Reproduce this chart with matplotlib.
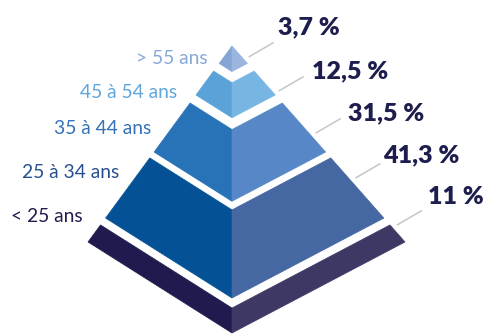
import numpy as np
import matplotlib
matplotlib.use("Agg")
from matplotlib import pyplot as plt
from matplotlib.patches import Polygon

# data
categories = ["> 55 ans", "45 à 54 ans", "35 à 44 ans", "25 à 34 ans", "< 25 ans"]
shares = [3.7, 12.5, 31.5, 41.3, 11]

# styles
left_colors = ["#85A5D4", "#5BA2D8", "#2872B7", "#045295", "#201B4E"]
right_colors = ["#9AB6DE", "#77B6E3", "#5787C6", "#4567A2", "#3E3964"]
label_colors = ["#86A8D8", "#5EA6DC", "#3471B8", "#26508F", "#201C4F"]
pct_color = "#1E1E4E"
line_color = "#C6C6C6"

# pyramid geometry (pixel space), layer cuts along apex->base
apex = np.array([232, 46])
base_left = np.array([88, 242])
base_front = np.array([232, 333])
base_right = np.array([405, 242])
cuts = [(0.0, 0.089), (0.128, 0.25), (0.291, 0.541), (0.571, 0.878), (0.913, 1.0)]

# label layout
label_x = [208, 177, 151, 119, 83]
label_y = [58, 93, 129, 173, 216]
lead_y = [57, 91, 133, 178, 225]
lead_dx, lead_dy = 25, -14.5
pct_x = [278, 312, 348, 383, 428]
pct_y = [27, 71, 113, 155, 197]


def pt(corner, t):
    return apex + t * (corner - apex)


def fmt(v):
    return "{:g}".format(v).replace(".", ",") + " %"


def main():
    fig = plt.figure(figsize=(4.86, 3.34), dpi=100)
    ax = fig.add_axes([0, 0, 1, 1])
    ax.set_xlim(0, 486)
    ax.set_ylim(334, 0)
    ax.axis("off")

    for i, (t0, t1) in enumerate(cuts):
        left_face = [pt(base_left, t0), pt(base_front, t0), pt(base_front, t1), pt(base_left, t1)]
        right_face = [pt(base_front, t0), pt(base_right, t0), pt(base_right, t1), pt(base_front, t1)]
        ax.add_patch(Polygon(left_face, closed=True, fc=left_colors[i], ec=left_colors[i], lw=0.5))
        ax.add_patch(Polygon(right_face, closed=True, fc=right_colors[i], ec=right_colors[i], lw=0.5))

        ax.text(label_x[i], label_y[i], categories[i], ha="right", va="center",
                fontsize=13.9, family="Lato", color=label_colors[i])

        # leader line from right edge of the pyramid
        frac = (lead_y[i] - apex[1]) / (base_right[1] - apex[1])
        x0 = pt(base_right, frac)[0] + 7
        ax.plot([x0, x0 + lead_dx], [lead_y[i], lead_y[i] + lead_dy],
                color=line_color, lw=1.1, solid_capstyle="butt")

        ax.text(pct_x[i], pct_y[i], fmt(shares[i]), ha="left", va="center",
                fontsize=18, family="Lato", fontweight="heavy", color=pct_color)

    fig.savefig("out.png", dpi=100, facecolor="white")


main()
